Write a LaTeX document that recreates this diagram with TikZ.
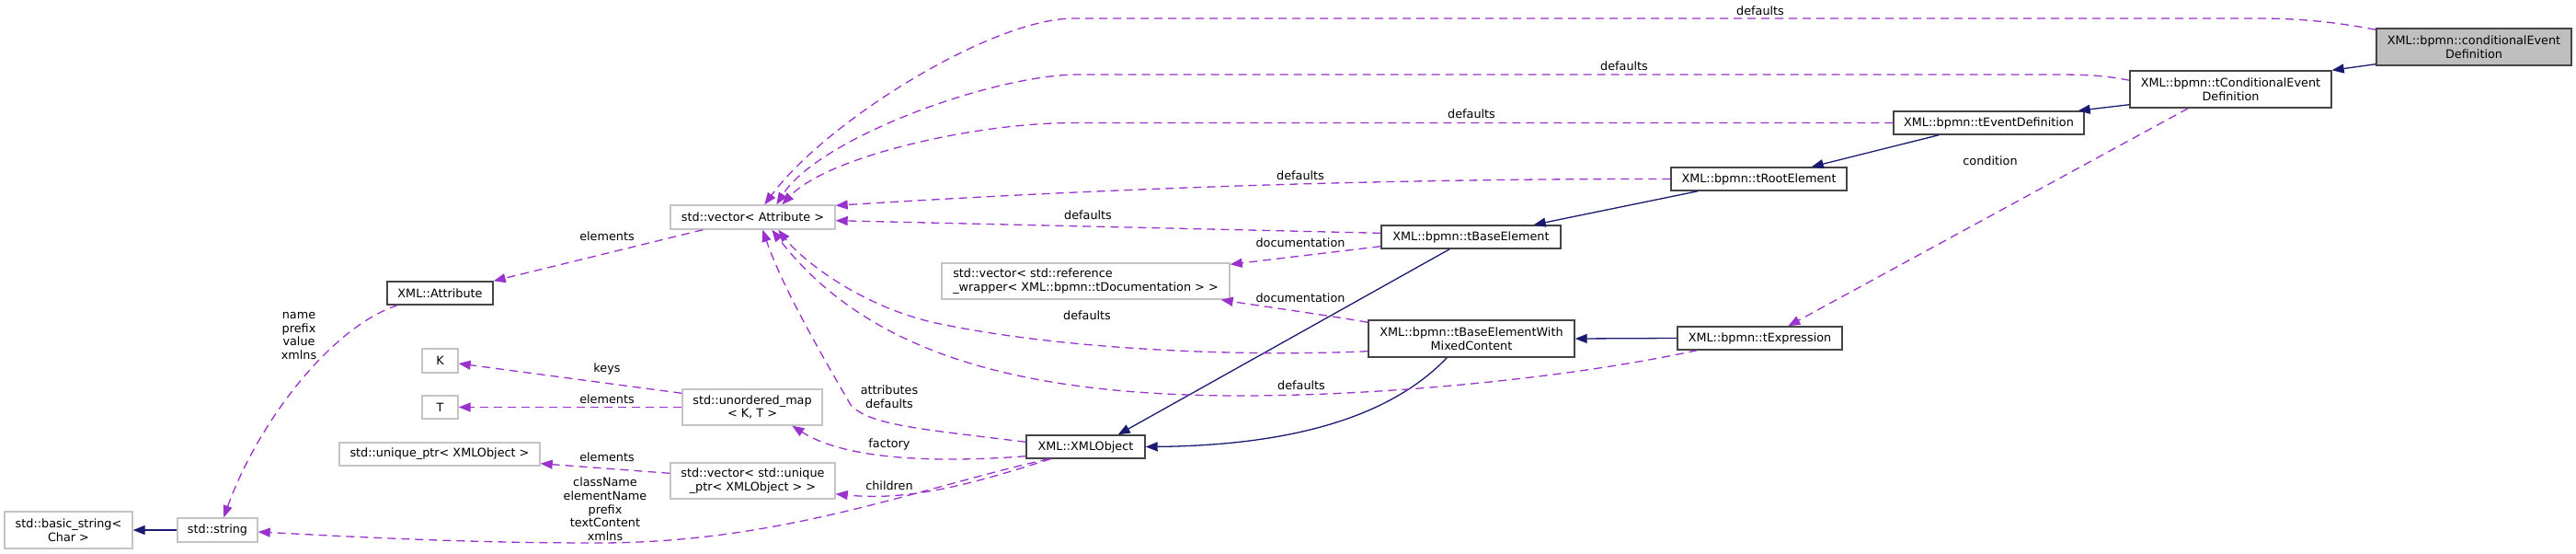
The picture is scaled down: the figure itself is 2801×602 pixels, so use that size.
\documentclass[tikz,border=0pt]{standalone}
\usepackage{fontspec}
\setmainfont{DejaVu Sans}
\usetikzlibrary{arrows.meta,calc}
\definecolor{edgeblue}{HTML}{191970}
\definecolor{edgepurple}{HTML}{9A32CD}
\definecolor{nodedark}{HTML}{454545}
\definecolor{nodelight}{HTML}{C4C4C4}
\definecolor{nodefill}{HTML}{BFBFBF}
\begin{document}
\begin{tikzpicture}[x=1pt,y=-1pt,
  every node/.style={font=\fontsize{12.8}{14.7}\selectfont},
  cls/.style={draw=nodedark,line width=1.4pt,fill=white,inner sep=0pt,align=center},
  ext/.style={draw=nodelight,line width=1.4pt,fill=white,inner sep=0pt,align=center},
  inhedge/.style={draw=edgeblue,line width=1.3pt,-{Triangle[length=13pt,width=10pt]}},
  useedge/.style={draw=edgepurple,line width=1.3pt,dash pattern=on 9pt off 6pt,-{Triangle[length=13pt,width=10pt]}},
  lbl/.style={inner sep=0pt,align=center}]
\useasboundingbox (0,0) rectangle (2801,602);

% nodes
\node[cls,fill=nodefill,minimum width=212,minimum height=40] (cond) at (2690,51) {XML::bpmn::conditionalEvent\\Definition};
\node[cls,minimum width=219,minimum height=40] (tcond) at (2425.5,97) {XML::bpmn::tConditionalEvent\\Definition};
\node[cls,minimum width=207,minimum height=25] (tevent) at (2162.5,133.5) {XML::bpmn::tEventDefinition};
\node[cls,minimum width=191,minimum height=25] (troot) at (1912.5,194.5) {XML::bpmn::tRootElement};
\node[cls,minimum width=195,minimum height=25] (tbase) at (1599.5,257.5) {XML::bpmn::tBaseElement};
\node[cls,minimum width=224,minimum height=40] (mixed) at (1600,368) {XML::bpmn::tBaseElementWith\\MixedContent};
\node[cls,minimum width=179,minimum height=25] (texpr) at (1913.5,367.5) {XML::bpmn::tExpression};
\node[cls,minimum width=129,minimum height=25] (xmlobj) at (1180.5,485.5) {XML::XMLObject};
\node[ext,minimum width=179,minimum height=26] (vecattr) at (818.5,236) {std::vector< Attribute >};
\node[ext,minimum width=313,minimum height=39,align=left] (refwrap) at (1180.5,305.5) {std::vector< std::reference\\\_wrapper< XML::bpmn::tDocumentation > >};
\node[ext,minimum width=152,minimum height=39] (umap) at (818,442.5) {std::unordered\_map\\< K, T >};
\node[ext,minimum width=179,minimum height=39] (vecuptr) at (818.5,522.5) {std::vector< std::unique\\\_ptr< XMLObject > >};
\node[cls,minimum width=115,minimum height=25] (attr) at (478.5,318.5) {XML::Attribute};
\node[ext,minimum width=39,minimum height=26] (K) at (478.5,392) {K};
\node[ext,minimum width=39,minimum height=25] (T) at (478.5,442.5) {T};
\node[ext,minimum width=218,minimum height=25] (uptr) at (478,493.5) {std::unique\_ptr< XMLObject >};
\node[ext,minimum width=87,minimum height=26] (string) at (236.5,576) {std::string};
\node[ext,minimum width=139,minimum height=40] (basicstr) at (74.5,576) {std::basic\_string<\\Char >};

% inheritance edges
\draw[inhedge] ($(cond.south west)+(0,-2)$) -- (tcond.north east);
\draw[inhedge] ($(tcond.south west)+(0,-4)$) -- ($(tevent.north east)+(-7,0)$);
\draw[inhedge] ($(tevent.south west)+(50,0)$) -- ($(troot.north east)+(-39,0)$);
\draw[inhedge] ($(troot.south west)+(30,0)$) -- ($(tbase.north east)+(-30,0)$);
\draw[inhedge] ($(tbase.south west)+(75,0)$) -- ($(xmlobj.north east)+(-30,0)$);
\draw[inhedge] ($(mixed.south west)+(86,0)$) .. controls (1510,455) and (1400,484) .. (xmlobj.east);
\draw[inhedge] (texpr.west) -- (mixed.east);
\draw[inhedge] (string.west) -- (basicstr.east);

% usage edges
\draw[useedge] ($(cond.north west)+(0,2)$) .. controls (2540,24) and (2500,20) .. (2458,20) -- (1167,20) .. controls (1080,20) and (900,130) .. ($(vecattr.north west)+(103,0)$);
\draw[useedge] ($(tcond.north west)+(0,11)$) .. controls (2290,82) and (2265,81) .. (2237,81) -- (1173,81) .. controls (1080,81) and (890,150) .. ($(vecattr.north west)+(116,0)$);
\draw[useedge] (tevent.west) -- (1167,133.5) .. controls (1060,133.5) and (900,170) .. ($(vecattr.north west)+(122,0)$);
\draw[useedge] (troot.west) .. controls (1500,194) and (1200,205) .. ($(vecattr.north east)+(0,1)$);
\draw[useedge] ($(tbase.north west)+(0,9)$) -- ($(vecattr.south east)+(0,-10)$);
\draw[useedge] ($(tbase.south west)+(0,-3)$) -- ($(refwrap.north east)+(0,2)$);
\draw[useedge] ($(mixed.north west)+(0,3)$) .. controls (1440,342) and (1380,334) .. ($(refwrap.south east)+(-10,0)$);
\draw[useedge] ($(mixed.south west)+(0,-7)$) .. controls (1350,388) and (1150,380) .. (1013,350) .. controls (930,330) and (870,280) .. ($(vecattr.south west)+(118,0)$);
\draw[useedge] ($(texpr.south west)+(22,0)$) .. controls (1700,412) and (1500,430) .. (1350,430) .. controls (1100,430) and (940,380) .. ($(vecattr.south west)+(111,0)$);
\draw[useedge] ($(xmlobj.north west)+(0,8)$) .. controls (1000,466) and (945,462) .. (925,440) .. controls (890,380) and (850,310) .. ($(vecattr.south west)+(101,0)$);
\draw[useedge] ($(xmlobj.south west)+(0,-3)$) .. controls (1020,503) and (920,500) .. ($(umap.south west)+(120,0)$);
\draw[useedge] ($(xmlobj.south west)+(27,0)$) .. controls (1060,525) and (990,545) .. ($(vecuptr.south east)+(0,-6)$);
\draw[useedge] ($(xmlobj.south west)+(25,0)$) .. controls (1000,530) and (850,590) .. (650,590) .. controls (500,590) and (380,583) .. ($(string.east)+(0,2)$);
\draw[useedge] ($(vecuptr.north west)+(0,12)$) -- ($(uptr.south east)+(0,-3)$);
\draw[useedge] ($(umap.north west)+(0,5)$) -- ($(K.east)+(0,3)$);
\draw[useedge] (umap.west) -- (T.east);
\draw[useedge] ($(vecattr.south west)+(36,0)$) -- (attr.north east);
\draw[useedge] ($(attr.south west)+(12,0)$) .. controls (360,355) and (280,460) .. ($(string.north west)+(51,0)$);
\draw[useedge] ($(tcond.south west)+(64,0)$) -- ($(texpr.north west)+(121,0)$);

% edge labels
\node[lbl] (la) at (1914,12) {defaults};
\node[lbl] (lb) at (1766,72) {defaults};
\node[lbl] (lc) at (1600,124) {defaults};
\node[lbl] (ld) at (1414,191) {defaults};
\node[lbl] (le) at (1183,234) {defaults};
\node[lbl] (lf) at (1414,264) {documentation};
\node[lbl] (lg) at (1414,324) {documentation};
\node[lbl] (lh) at (1182,343) {defaults};
\node[lbl] (li) at (1415,419) {defaults};
\node[lbl] (lj) at (967,431) {attributes\\defaults};
\node[lbl] (lk) at (967,483) {factory};
\node[lbl] (ll) at (967,528) {children};
\node[lbl] (lm) at (658,553.5) {className\\elementName\\prefix\\textContent\\xmlns};
\node[lbl] (ln) at (660,497) {elements};
\node[lbl] (lo) at (660,401) {keys};
\node[lbl] (lp) at (660,434) {elements};
\node[lbl] (lq) at (660,257) {elements};
\node[lbl] (lr) at (325,365) {name\\prefix\\value\\xmlns};
\node[lbl] (ls) at (2164,175) {condition};
\end{tikzpicture}
\end{document}
